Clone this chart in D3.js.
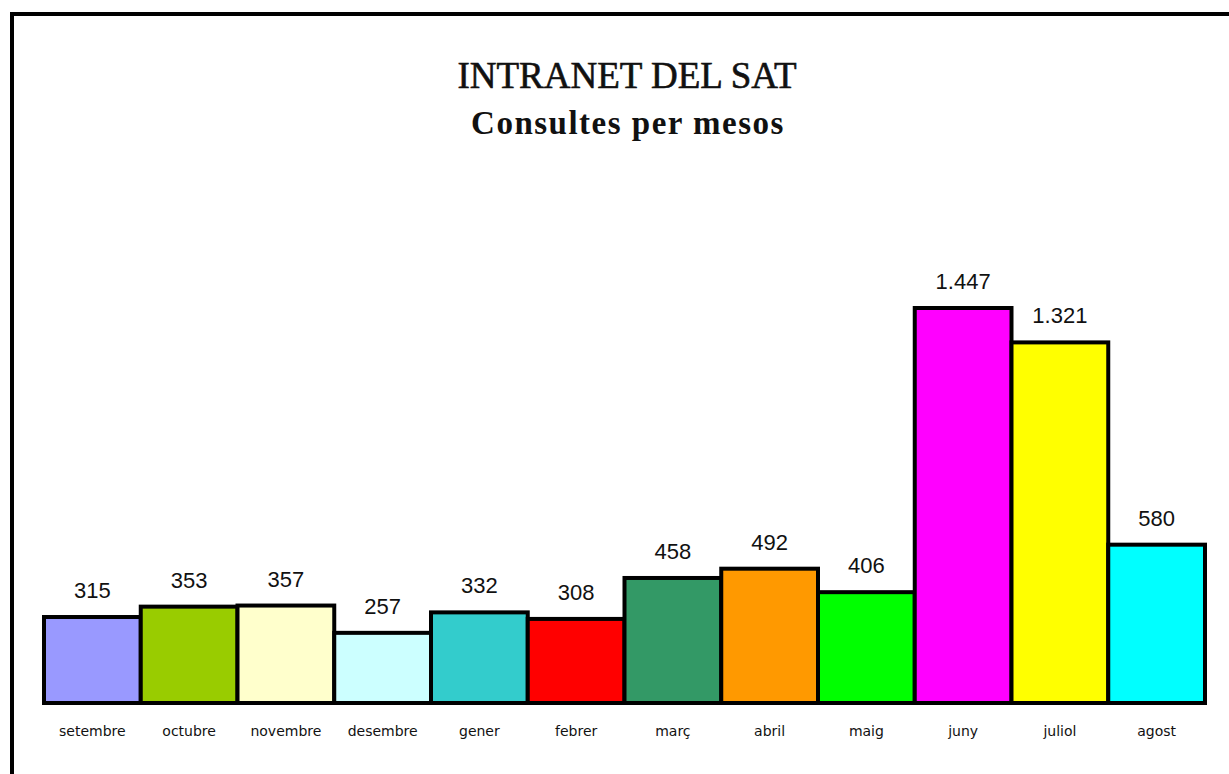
<!DOCTYPE html>
<html>
<head>
<meta charset="utf-8">
<script src="https://cdn.jsdelivr.net/npm/d3@7"></script>
<style>
  body { margin: 0; background: #fff; }
  svg { display: block; }
</style>
</head>
<body>
<div id="chart"></div>
<script>
const months = ["setembre", "octubre", "novembre", "desembre", "gener", "febrer",
  "març", "abril", "maig", "juny", "juliol", "agost"];
const consultes = [315, 353, 357, 257, 332, 308, 458, 492, 406, 1447, 1321, 580];
const colors = ["#9999ff", "#99cc00", "#ffffcc", "#ccffff", "#33cccc", "#ff0000",
  "#339966", "#ff9900", "#00ff00", "#ff00ff", "#ffff00", "#00ffff"];

const width = 1229;
const height = 774;
const plot = { left: 44, right: 1205, bottom: 703 };

const svg = d3.select("#chart")
  .append("svg")
  .attr("width", width)
  .attr("height", height);

// frame (runs off the right and bottom edge)
svg.append("rect")
  .attr("x", 12).attr("y", 14)
  .attr("width", 1240).attr("height", 800)
  .attr("fill", "none")
  .attr("stroke", "#000")
  .attr("stroke-width", 4);

svg.append("text")
  .attr("x", 627).attr("y", 88)
  .attr("text-anchor", "middle")
  .style("font-family", "'Liberation Serif', serif")
  .style("font-size", "37px")
  .attr("fill", "#111")
  .attr("stroke", "#111")
  .attr("stroke-width", 0.6)
  .text("INTRANET DEL SAT");

svg.append("text")
  .attr("x", 628).attr("y", 134)
  .attr("text-anchor", "middle")
  .style("font-family", "'Liberation Serif', serif")
  .style("font-weight", "bold")
  .style("font-size", "33px")
  .style("letter-spacing", "1.5px")
  .attr("fill", "#111")
  .text("Consultes per mesos");

const x = d3.scaleBand()
  .domain(months)
  .range([plot.left, plot.right])
  .padding(0);

// 1447 reaches y = 308
const y = d3.scaleLinear()
  .domain([0, 1447])
  .range([plot.bottom, 308]);

const data = months.map((m, i) => ({ month: m, value: consultes[i], color: colors[i] }));

svg.append("g")
  .selectAll("rect")
  .data(data)
  .join("rect")
  .attr("x", d => x(d.month))
  .attr("y", d => y(d.value))
  .attr("width", x.bandwidth())
  .attr("height", d => plot.bottom - y(d.value))
  .attr("fill", d => d.color)
  .attr("stroke", "#000")
  .attr("stroke-width", 4);

const fmt = d3.formatLocale({ decimal: ",", thousands: ".", grouping: [3], currency: ["", "€"] }).format(",d");

svg.append("g")
  .selectAll("text")
  .data(data)
  .join("text")
  .attr("x", d => x(d.month) + x.bandwidth() / 2)
  .attr("y", d => y(d.value) - 19)
  .attr("text-anchor", "middle")
  .style("font-family", "'Liberation Sans', Arial, sans-serif")
  .style("font-size", "22px")
  .attr("fill", "#111")
  .text(d => fmt(d.value));

svg.append("g")
  .selectAll("text")
  .data(data)
  .join("text")
  .attr("x", d => x(d.month) + x.bandwidth() / 2)
  .attr("y", 736)
  .attr("text-anchor", "middle")
  .style("font-family", "'DejaVu Sans', sans-serif")
  .style("font-size", "14px")
  .attr("fill", "#111")
  .text(d => d.month);
</script>
</body>
</html>
